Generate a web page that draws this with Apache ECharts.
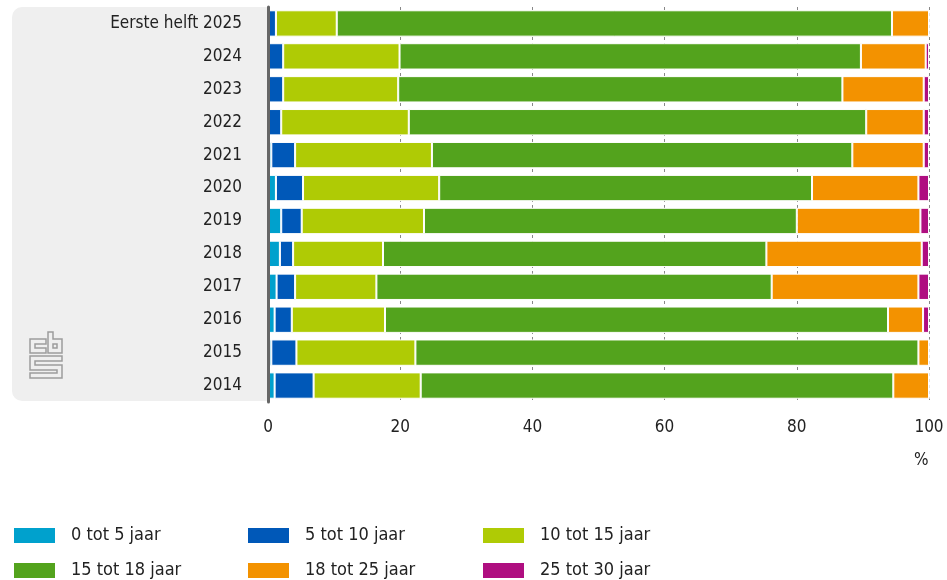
<!DOCTYPE html>
<html>
<head>
<meta charset="utf-8">
<script src="https://cdn.jsdelivr.net/npm/echarts@6/dist/echarts.min.js"></script>
<style>
    html, body { margin: 0; padding: 0; background: #fff; }
    #chart { width: 947px; height: 580px; }
</style>
</head>
<body>
<div id="chart"></div>
<script>
    // categorieen van boven naar onder
    var periodes = ['Eerste helft 2025', '2024', '2023', '2022', '2021', '2020', '2019', '2018', '2017', '2016', '2015', '2014'];
    var xTicks = [0, 20, 40, 60, 80, 100];

    var namen = ['0 tot 5 jaar', '5 tot 10 jaar', '10 tot 15 jaar', '15 tot 18 jaar', '18 tot 25 jaar', '25 tot 30 jaar'];
    var kleuren = ['#00a1cd', '#0058b8', '#afcb05', '#53a31d', '#f39200', '#af0e80'];

    var tot5   = [0.1, 0.1, 0.1, 0.1, 0.5, 1.2, 2.0, 1.8, 1.3, 1.0, 0.5, 1.0];
    var tot10  = [1.1, 2.2, 2.2, 1.9, 3.6, 4.1, 3.1, 2.0, 2.8, 2.6, 3.8, 5.9];
    var tot15  = [9.2, 17.6, 17.4, 19.3, 20.7, 20.6, 18.5, 13.6, 12.3, 14.1, 18.0, 16.2];
    var tot18  = [84.0, 69.8, 67.2, 69.2, 63.6, 56.4, 56.4, 58.0, 59.8, 76.1, 76.1, 71.5];
    var tot25  = [5.6, 9.8, 12.3, 8.7, 10.8, 16.1, 18.7, 23.5, 22.2, 5.3, 1.6, 5.4];
    var tot30  = [0, 0.5, 0.8, 0.8, 0.8, 1.6, 1.3, 1.1, 1.6, 0.9, 0, 0];

    var waarden = [tot5, tot10, tot15, tot18, tot25, tot30];

    var font = "'DejaVu Sans Condensed', 'Liberation Sans Narrow', 'DejaVu Sans', sans-serif";

    var series = [];
    for (let i = 0; i < namen.length; i++) {
        series.push({
            name: namen[i],
            type: 'bar',
            stack: 'totaal',
            barCategoryGap: '20%',
            data: waarden[i],
            itemStyle: {
                color: kleuren[i],
                borderColor: '#fff',
                borderWidth: 1
            }
        });
    }

    // legenda: 3 kolommen, 2 rijen
    var legendLeft = [12, 246, 481];
    var legendTop = [526, 561];
    var legends = [];
    for (let i = 0; i < namen.length; i++) {
        legends.push({
            data: [namen[i]],
            left: legendLeft[i % 3],
            top: legendTop[Math.floor(i / 3)],
            icon: 'rect',
            itemWidth: 43,
            itemHeight: 17,
            selectedMode: false,
            padding: 0,
            textStyle: {
                fontFamily: font,
                fontSize: 18,
                color: '#222',
                padding: [0, 0, 0, 10]
            }
        });
    }

    var logoStyle = { fill: 'none', stroke: '#9d9d9d', lineWidth: 1.5 };

    var chart = echarts.init(document.getElementById('chart'));
    chart.setOption({
        animation: false,
        textStyle: { fontFamily: font },
        grid: { left: 268, right: 18, top: 7, bottom: 178, containLabel: false },
        legend: legends,
        graphic: [
            {
                type: 'rect',
                z: -10,
                shape: { x: 12, y: 7, width: 258, height: 394, r: [10, 0, 0, 10] },
                style: { fill: '#efefef' }
            },
            {
                type: 'group',
                z: 10,
                children: [
                    { type: 'polygon', shape: { points: [[30, 339], [46, 339], [46, 344], [35, 344], [35, 348], [46, 348], [46, 353], [30, 353]] }, style: logoStyle },
                    { type: 'polygon', shape: { points: [[48, 332], [53, 332], [53, 339], [62, 339], [62, 353], [48, 353]] }, style: logoStyle },
                    { type: 'rect', shape: { x: 53, y: 344, width: 4, height: 4 }, style: logoStyle },
                    { type: 'polygon', shape: { points: [[30, 356], [62, 356], [62, 361], [35, 361], [35, 365], [62, 365], [62, 378], [30, 378], [30, 373], [57, 373], [57, 370], [30, 370]] }, style: logoStyle }
                ]
            },
            {
                type: 'text',
                left: 914,
                top: 452,
                style: { text: '%', fontFamily: font, fontSize: 17, fill: '#222' }
            }
        ],
        xAxis: {
            type: 'value',
            min: xTicks[0],
            max: xTicks[xTicks.length - 1],
            interval: 20,
            axisLine: { show: false },
            axisTick: { show: false },
            splitLine: { show: true, lineStyle: { color: '#888', width: 1, type: [3, 3] } },
            axisLabel: { margin: 17, fontSize: 17, color: '#222', fontFamily: font }
        },
        yAxis: {
            type: 'category',
            data: periodes,
            inverse: true,
            z: 5,
            axisLine: { show: true, lineStyle: { color: '#666', width: 3 } },
            axisTick: { show: false },
            axisLabel: { margin: 26, fontSize: 17, color: '#222', fontFamily: font }
        },
        series: series
    });
</script>
</body>
</html>
